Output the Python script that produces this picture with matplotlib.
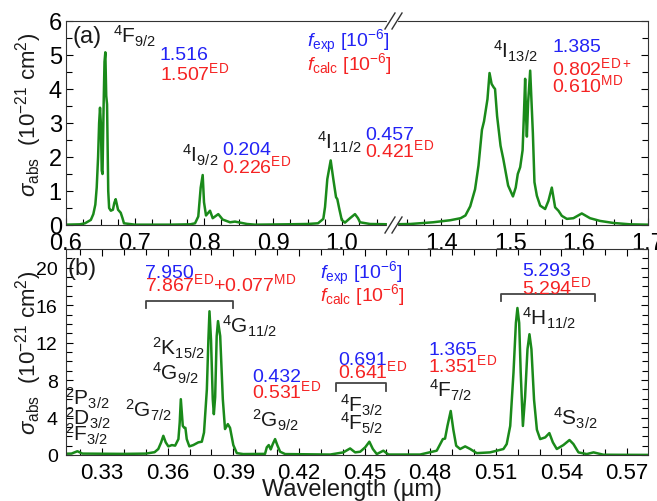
import matplotlib
matplotlib.use("Agg")
import matplotlib.pyplot as plt
from matplotlib.lines import Line2D
from matplotlib.ticker import MultipleLocator

plt.rcParams["font.family"] = ["Liberation Sans", "DejaVu Sans"]
plt.rcParams["mathtext.fontset"] = "custom"
plt.rcParams["mathtext.rm"] = "Liberation Sans"
plt.rcParams["mathtext.it"] = "Liberation Sans:italic"
plt.rcParams["mathtext.bf"] = "Liberation Sans:bold"

# panel (a): NIR absorption cross-section
wl_a = [0.600, 0.620, 0.6275, 0.636, 0.6396, 0.6425, 0.6445, 0.6465, 0.6480, 0.6493,
        0.6505, 0.6518, 0.6529, 0.6545, 0.6558, 0.6570, 0.6583, 0.6595, 0.6612, 0.6625,
        0.6650, 0.6680, 0.6700, 0.6720, 0.6754, 0.6793, 0.6819, 0.6840, 0.700, 0.750,
        0.780, 0.787, 0.7917, 0.7952, 0.7981, 0.8000, 0.8029, 0.8087, 0.8126, 0.8207,
        0.8271, 0.8377, 0.8449, 0.8623, 0.874, 0.920, 0.950, 0.9652, 0.9729, 0.9754,
        0.9787, 0.9836, 0.9874, 0.9913, 0.9932, 0.9961, 0.9996, 1.0043, 1.0116, 1.0188,
        1.0232, 1.0261, 1.0406, 1.071,
        1.327, 1.355, 1.388, 1.413, 1.428, 1.435, 1.442, 1.449, 1.454, 1.459,
        1.462, 1.467, 1.470, 1.473, 1.476, 1.478, 1.481, 1.486, 1.490, 1.497,
        1.504, 1.508, 1.511, 1.5145, 1.518, 1.520, 1.5217, 1.523, 1.5242, 1.526,
        1.529, 1.531, 1.5329, 1.5352, 1.5387, 1.5435, 1.5507, 1.5555, 1.5604, 1.5652,
        1.570, 1.5749, 1.5822, 1.5917, 1.6039, 1.6159, 1.6304, 1.6497, 1.6739, 1.700]
sig_a = [0.01, 0.02, 0.05, 0.15, 0.32, 0.6, 1.1, 2.0, 3.0, 3.45,
         3.0, 1.6, 1.5, 3.5, 4.8, 5.08, 3.8, 3.55, 1.0, 0.5,
         0.42, 0.45, 0.65, 0.76, 0.45, 0.36, 0.2, 0.05, 0.01, 0.01,
         0.02, 0.05, 0.25, 1.1, 1.47, 0.67, 0.28, 0.42, 0.2, 0.32,
         0.16, 0.08, 0.1, 0.03, 0.01, 0.02, 0.03, 0.05, 0.18, 0.53,
         1.35, 1.9, 1.35, 0.82, 0.76, 0.47, 0.15, 0.07, 0.2, 0.32,
         0.2, 0.08, 0.03, 0.02,
         0.02, 0.03, 0.08, 0.14, 0.2, 0.28, 0.55, 1.05, 1.75, 2.8,
         3.05, 3.7, 4.47, 4.15, 4.05, 4.0, 3.2, 2.33, 1.94, 1.16,
         0.84, 1.1, 1.5, 1.7, 2.2, 3.3, 4.3, 3.2, 2.6, 3.6,
         4.54, 3.6, 2.7, 1.26, 0.86, 0.57, 0.47, 0.71, 1.1, 0.52,
         0.42, 0.27, 0.18, 0.2, 0.34, 0.2, 0.12, 0.06, 0.02, 0.01]

# panel (b): UV-visible absorption cross-section
wl_b = [0.3100, 0.3160, 0.3187, 0.3210, 0.3400, 0.3500, 0.3540, 0.3557, 0.3570, 0.3580,
        0.3591, 0.3603, 0.3619, 0.3634, 0.3649, 0.3655, 0.3660, 0.3669, 0.3676, 0.3681,
        0.3687, 0.3699, 0.3717, 0.3740, 0.3756, 0.3766, 0.3779, 0.3786, 0.3791, 0.3798,
        0.3806, 0.3811, 0.3817, 0.3824, 0.3830, 0.3840, 0.3852, 0.3862, 0.3875, 0.3885,
        0.3900, 0.3916, 0.3945, 0.4045, 0.4053, 0.4062, 0.4071, 0.4081, 0.4091, 0.4102,
        0.4114, 0.4137, 0.4343, 0.4403, 0.4434, 0.4457, 0.4480, 0.4503, 0.4522, 0.4538,
        0.4556, 0.4586, 0.4609, 0.4754, 0.4830, 0.4858, 0.4868, 0.4879, 0.4894, 0.4906,
        0.4919, 0.4937, 0.4960, 0.4983, 0.5013, 0.5074, 0.5105, 0.5135, 0.5150, 0.5166,
        0.5181, 0.5192, 0.5199, 0.5207, 0.5214, 0.5224, 0.5234, 0.5245, 0.5254, 0.5263,
        0.5275, 0.5288, 0.5303, 0.5326, 0.5345, 0.5361, 0.5379, 0.5409, 0.5437, 0.5455,
        0.5478, 0.5516, 0.5547, 0.5592, 0.5669, 0.5806]
sig_b = [0.12, 0.15, 0.4, 0.15, 0.12, 0.15, 0.3, 0.64, 1.35, 2.05,
         1.35, 0.92, 1.06, 1.0, 1.7, 3.5, 5.96, 3.1, 2.9, 2.9,
         1.7, 0.92, 1.06, 1.35, 1.42, 2.4, 7.0, 12.3, 15.35, 12.3,
         5.96, 4.36, 6.2, 12.7, 14.3, 12.7, 5.96, 2.77, 3.3, 2.9,
         1.06, 0.2, 0.1, 0.12, 0.82, 1.06, 0.6, 1.2, 1.7, 1.0,
         0.35, 0.1, 0.05, 0.28, 0.7, 0.28, 0.35, 0.82, 1.42, 0.64,
         0.1, 0.46, 0.05, 0.05, 0.46, 1.7, 1.75, 3.1, 4.7, 2.7,
         0.99, 0.64, 0.92, 0.64, 0.2, 0.28, 0.46, 0.64, 1.17, 3.1,
         8.8, 14.1, 15.7, 14.1, 8.8, 3.1, 6.2, 11.3, 12.9, 11.3,
         5.9, 2.7, 1.7, 1.88, 2.34, 1.35, 0.64, 1.06, 1.6, 1.17,
         0.28, 0.1, 0.28, 0.03, 0.02, 0.01]

GREEN = "#1a8a1a"
BLUE = "#2323f5"
RED = "#f52323"
DARK = "#1a1a1a"
W, H = 657, 502

fig = plt.figure(figsize=(6.57, 5.02), dpi=100)


def fx(px):
    return px / W


def fy(py):
    return 1 - py / H


# ---- panel (a), broken x axis ----
axL = fig.add_axes([fx(66), fy(226), fx(391) - fx(66), fy(22) - fy(226)])
axR = fig.add_axes([fx(391), fy(226), fx(648) - fx(391), fy(22) - fy(226)])
axR.set_facecolor("none")
for ax in (axL, axR):
    ax.plot(wl_a, sig_a, color=GREEN, lw=1.8)
    ax.set_ylim(0, 6)
    ax.yaxis.set_major_locator(MultipleLocator(1))
    ax.yaxis.set_minor_locator(MultipleLocator(0.5))
    ax.xaxis.set_major_locator(MultipleLocator(0.1))
    ax.xaxis.set_minor_locator(MultipleLocator(0.025))
    ax.tick_params(which="both", direction="in", labelsize=17, pad=5)
    ax.tick_params(which="major", length=5, width=0.8)
    ax.tick_params(which="minor", length=4, width=0.8)
    for s in ax.spines.values():
        s.set_color("#333333")
axL.set_xlim(0.6, 1.071)
axR.set_xlim(1.327, 1.7)
axL.spines["right"].set_visible(False)
axR.spines["left"].set_visible(False)
axL.tick_params(axis="y", which="both", left=True, right=False, pad=3)
axR.tick_params(axis="y", which="both", left=False, right=True, labelleft=False)
axL.set_xticks([0.6, 0.7, 0.8, 0.9, 1.0])
axL.set_xticklabels(["0.6", "0.7", "0.8", "0.9", "1.0"])
axR.set_xticks([1.4, 1.5, 1.6, 1.7])
axR.set_xticklabels(["1.4", "1.5", "1.6", "1.7"])

# break marks
for py in (22, 226):
    fig.add_artist(Line2D([fx(389), fx(396)], [fy(py), fy(py)], color="white", lw=3))
    for dx in (0, 7):
        fig.add_artist(Line2D([fx(385 + dx), fx(395 + dx)], [fy(py + 8), fy(py - 8)],
                              color="#333333", lw=1.0))

tk = dict(fontsize=15, color=DARK, va="baseline")
nb = dict(fontsize=14, va="baseline")
axL.text(0.6087, 5.56, "(a)", fontsize=17, color=DARK, va="center")
axL.text(0.668, 5.38, r"$^{4}\mathrm{F}_{9/2}$", **tk)
axL.text(0.736, 4.88, "1.516", color=BLUE, **nb)
axL.text(0.736, 4.29, r"$\mathrm{1.507}^{\mathrm{ED}}$", color=RED, **nb)
axL.text(0.768, 1.88, r"$^{4}\mathrm{I}_{9/2}$", **tk)
axL.text(0.826, 2.09, "0.204", color=BLUE, **nb)
axL.text(0.826, 1.56, r"$\mathrm{0.226}^{\mathrm{ED}}$", color=RED, **nb)
axL.text(0.9638, 2.24, r"$^{4}\mathrm{I}_{11/2}$", **tk)
axL.text(1.033, 2.53, "0.457", color=BLUE, **nb)
axL.text(1.033, 2.03, r"$\mathrm{0.421}^{\mathrm{ED}}$", color=RED, **nb)
axL.text(0.949, 5.26, r"$f_{\mathrm{exp}}$ [10$^{-6}$]", color=BLUE, **nb)
axL.text(0.949, 4.59, r"$f_{\mathrm{calc}}$ [10$^{-6}$]", color=RED, **nb)
axR.text(1.4754, 4.94, r"$^{4}\mathrm{I}_{13/2}$", **tk)
axR.text(1.561, 5.12, "1.385", color=BLUE, **nb)
axR.text(1.561, 4.44, r"$\mathrm{0.802}^{\mathrm{ED+}}$", color=RED, **nb)
axR.text(1.561, 3.94, r"$\mathrm{0.610}^{\mathrm{MD}}$", color=RED, **nb)

# ---- panel (b) ----
axb = fig.add_axes([fx(66), fy(456), fx(648) - fx(66), fy(250) - fy(456)])
axb.plot(wl_b, sig_b, color=GREEN, lw=1.8)
axb.set_xlim(0.3135, 0.5796)
axb.set_ylim(0, 22)
axb.xaxis.set_major_locator(MultipleLocator(0.03))
axb.xaxis.set_minor_locator(MultipleLocator(0.01))
axb.set_xticks([0.33, 0.36, 0.39, 0.42, 0.45, 0.48, 0.51, 0.54, 0.57])
axb.set_xticklabels(["0.33", "0.36", "0.39", "0.42", "0.45", "0.48", "0.51", "0.54", "0.57"])
axb.yaxis.set_major_locator(MultipleLocator(4))
axb.yaxis.set_minor_locator(MultipleLocator(1))
axb.tick_params(which="both", direction="in", top=True, right=True)
axb.tick_params(which="major", length=5, width=0.8)
axb.tick_params(which="minor", length=4, width=0.8)
axb.tick_params(axis="x", labelsize=16, pad=5)
axb.tick_params(axis="y", labelsize=14, pad=6)
for s in axb.spines.values():
    s.set_color("#333333")

axb.text(0.314, 20.0, "(b)", fontsize=17, color=DARK, va="center")
axb.text(0.3497, 19.04, "7.950", color=BLUE, **nb)
axb.text(0.3497, 17.66, r"$\mathrm{7.867}^{\mathrm{ED}}\mathrm{+0.077}^{\mathrm{MD}}$", color=RED, **nb)
axb.text(0.4297, 18.9, r"$f_{\mathrm{exp}}$ [10$^{-6}$]", color=BLUE, **nb)
axb.text(0.4297, 16.5, r"$f_{\mathrm{calc}}$ [10$^{-6}$]", color=RED, **nb)
axb.text(0.5220, 19.26, "5.293", color=BLUE, **nb)
axb.text(0.5220, 17.3, r"$\mathrm{5.294}^{\mathrm{ED}}$", color=RED, **nb)
axb.text(0.3986, 7.9, "0.432", color=BLUE, **nb)
axb.text(0.3986, 6.2, r"$\mathrm{0.531}^{\mathrm{ED}}$", color=RED, **nb)
axb.text(0.4379, 9.7, "0.691", color=BLUE, **nb)
axb.text(0.4379, 8.3, r"$\mathrm{0.641}^{\mathrm{ED}}$", color=RED, **nb)
axb.text(0.4791, 10.74, "1.365", color=BLUE, **nb)
axb.text(0.4791, 8.94, r"$\mathrm{1.351}^{\mathrm{ED}}$", color=RED, **nb)

axb.text(0.3849, 13.1, r"$^{4}\mathrm{G}_{11/2}$", **tk)
axb.text(0.3529, 10.7, r"$^{2}\mathrm{K}_{15/2}$", **tk)
axb.text(0.3529, 8.1, r"$^{4}\mathrm{G}_{9/2}$", **tk)
axb.text(0.313, 5.4, r"$^{2}\mathrm{P}_{3/2}$", **tk)
axb.text(0.313, 3.3, r"$^{2}\mathrm{D}_{3/2}$", **tk)
axb.text(0.313, 1.5, r"$^{2}\mathrm{F}_{3/2}$", **tk)
axb.text(0.3405, 4.15, r"$^{2}\mathrm{G}_{7/2}$", **tk)
axb.text(0.3986, 3.0, r"$^{2}\mathrm{G}_{9/2}$", **tk)
axb.text(0.4388, 4.6, r"$^{4}\mathrm{F}_{3/2}$", **tk)
axb.text(0.4388, 2.7, r"$^{4}\mathrm{F}_{5/2}$", **tk)
axb.text(0.4795, 6.3, r"$^{4}\mathrm{F}_{7/2}$", **tk)
axb.text(0.522, 13.9, r"$^{4}\mathrm{H}_{11/2}$", **tk)
axb.text(0.5362, 3.3, r"$^{4}\mathrm{S}_{3/2}$", **tk)

# brackets grouping overlapping manifolds
brackets = [(0.3501, 0.3897, 16.5, 15.7), (0.4370, 0.4599, 7.66, 6.8), (0.5125, 0.5555, 17.2, 16.4)]
for x0, x1, ytop, yend in brackets:
    axb.plot([x0, x0, x1, x1], [yend, ytop, ytop, yend], color="#444444", lw=1.3)

ylab = r"$\sigma_{\mathrm{abs}}$  (10$^{-21}$ cm$^{2}$)"
fig.text(fx(29), fy(115), ylab, rotation=90, fontsize=16, color=DARK, ha="center", va="center")
fig.text(fx(29), fy(353), ylab, rotation=90, fontsize=16, color=DARK, ha="center", va="center")
fig.text(fx(352), fy(496), "Wavelength (µm)", fontsize=17, color=DARK, ha="center", va="baseline")

fig.savefig("out.png", dpi=100)
